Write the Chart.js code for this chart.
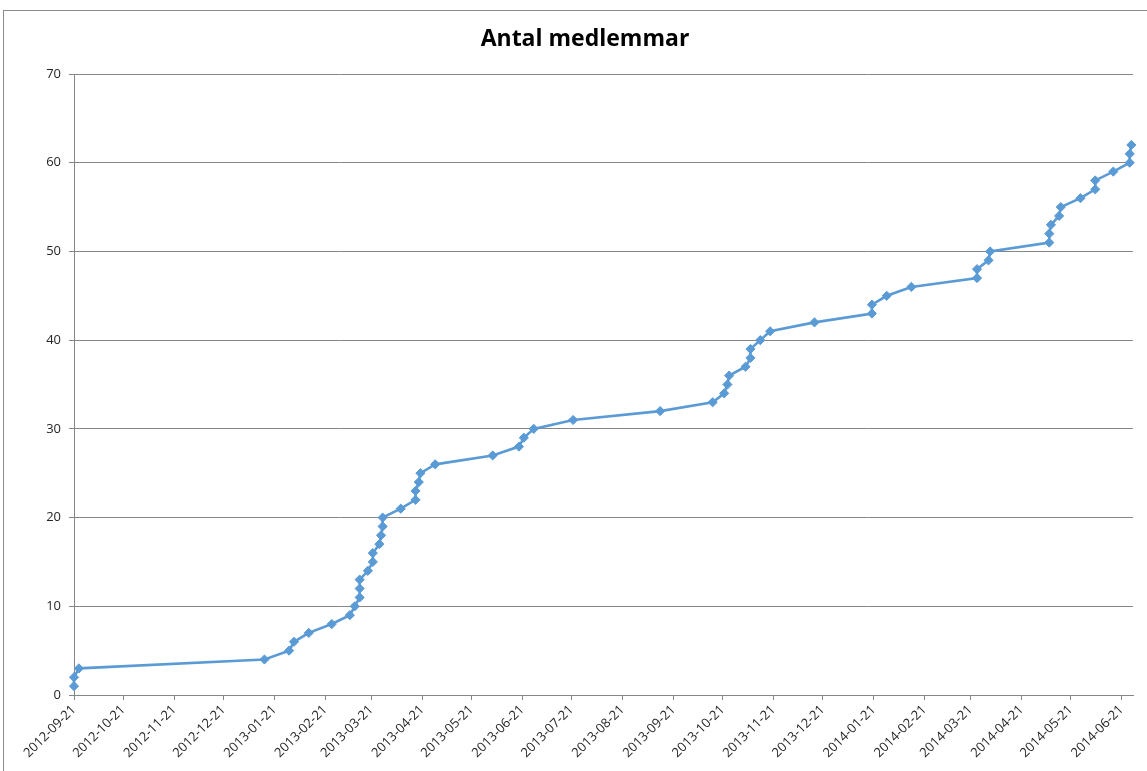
<!DOCTYPE html>
<html>
<head>
<meta charset="utf-8">
<script src="https://cdn.jsdelivr.net/npm/chart.js@4/dist/chart.umd.min.js"></script>
<style>
  html, body { margin: 0; padding: 0; background: #fff; overflow: hidden; width: 1147px; height: 771px; }
  #wrap { position: relative; width: 1170px; height: 771px; }
  #frame { position: absolute; left: 3px; top: 10px; width: 1300px; height: 900px;
           border-left: 1px solid #8c8c8c; border-top: 1px solid #8c8c8c; pointer-events: none; }
  canvas { position: absolute; left: 0; top: 0; }
</style>
</head>
<body>
<div id="wrap">
  <canvas id="c" width="1170" height="771"></canvas>
  <div id="frame"></div>
</div>
<script>
// ---- data ----
const chartTitle = 'Antal medlemmar';
const dates = [
  '2012-09-21','2012-09-21','2012-09-24','2013-01-15','2013-01-30','2013-02-02','2013-02-11','2013-02-25',
  '2013-03-08','2013-03-11','2013-03-14','2013-03-14','2013-03-14','2013-03-19','2013-03-22','2013-03-22',
  '2013-03-26','2013-03-27','2013-03-28','2013-03-28','2013-04-08','2013-04-17','2013-04-17','2013-04-19',
  '2013-04-20','2013-04-29','2013-06-03','2013-06-19','2013-06-22','2013-06-28','2013-07-22','2013-09-13',
  '2013-10-15','2013-10-22','2013-10-24','2013-10-25','2013-11-04','2013-11-07','2013-11-07','2013-11-13',
  '2013-11-19','2013-12-16','2014-01-20','2014-01-20','2014-01-29','2014-02-13','2014-03-25','2014-03-25',
  '2014-04-01','2014-04-02','2014-05-08','2014-05-08','2014-05-09','2014-05-14','2014-05-15','2014-05-27',
  '2014-06-05','2014-06-05','2014-06-16','2014-06-26','2014-06-26','2014-06-27'
];
const members = [
  1,2,3,4,5,6,7,8,9,10,11,12,13,14,15,16,17,18,19,20,
  21,22,23,24,25,26,27,28,29,30,31,32,33,34,35,36,37,38,39,40,
  41,42,43,44,45,46,47,48,49,50,51,52,53,54,55,56,57,58,59,60,
  61,62
];
const tickLabels = [
  '2012-09-21','2012-10-21','2012-11-21','2012-12-21','2013-01-21','2013-02-21','2013-03-21',
  '2013-04-21','2013-05-21','2013-06-21','2013-07-21','2013-08-21','2013-09-21','2013-10-21',
  '2013-11-21','2013-12-21','2014-01-21','2014-02-21','2014-03-21','2014-04-21','2014-05-21','2014-06-21'
];
const axisStart = '2012-09-21';
const axisEnd = '2014-06-28';
const yTicks = [0,10,20,30,40,50,60,70];

// ---- helpers ----
function dayOffset(s) {
  const p = s.split('-').map(Number);
  const a = axisStart.split('-').map(Number);
  return (Date.UTC(p[0], p[1]-1, p[2]) - Date.UTC(a[0], a[1]-1, a[2])) / 86400000;
}
const points = dates.map((d, i) => ({ x: dayOffset(d), y: members[i] }));
const labelByValue = {};
tickLabels.forEach(t => { labelByValue[dayOffset(t)] = t; });

const axisColor = '#868686';
const textColor = '#262626';
const FONT = "'Open Sans', 'Liberation Sans', sans-serif";

new Chart(document.getElementById('c'), {
  type: 'line',
  data: {
    datasets: [{
      label: chartTitle,
      data: points,
      borderColor: '#5B9BD5',
      backgroundColor: '#5B9BD5',
      borderWidth: 2.6,
      pointStyle: 'rectRot',
      pointRadius: 4.6,
      pointHoverRadius: 4.6,
      pointBorderWidth: 1,
      tension: 0,
      fill: false,
      clip: false
    }]
  },
  options: {
    responsive: false,
    devicePixelRatio: 1,
    animation: false,
    layout: { padding: { left: 37, right: 37, top: 0, bottom: 0 } },
    plugins: {
      legend: { display: false },
      tooltip: { enabled: false },
      title: {
        display: true,
        text: chartTitle,
        color: '#000',
        font: { family: FONT, size: 23, weight: 'bold' },
        padding: { top: 26, bottom: 20.4 }
      }
    },
    scales: {
      x: {
        type: 'linear',
        min: dayOffset(axisStart),
        max: dayOffset(axisEnd),
        afterBuildTicks: (scale) => {
          scale.ticks = tickLabels.map(t => ({ value: dayOffset(t) }));
        },
        afterFit: (scale) => { scale.height = 76; },
        ticks: {
          autoSkip: false,
          maxRotation: 45,
          minRotation: 45,
          color: textColor,
          padding: 2,
          font: { family: FONT, size: 13 },
          callback: (v) => labelByValue[v] || ''
        },
        grid: { drawOnChartArea: false, drawTicks: true, tickLength: 5, color: axisColor, lineWidth: 1 },
        border: { display: true, color: axisColor, width: 1 }
      },
      y: {
        min: 0,
        max: 70,
        afterBuildTicks: (scale) => {
          scale.ticks = yTicks.map(v => ({ value: v }));
        },
        afterFit: (scale) => { scale.width = 37; },
        ticks: {
          color: textColor,
          padding: 8,
          font: { family: FONT, size: 13 }
        },
        grid: { color: axisColor, lineWidth: 1, drawTicks: true, tickLength: 5 },
        border: { display: true, color: axisColor, width: 1 }
      }
    }
  }
});
</script>
</body>
</html>
